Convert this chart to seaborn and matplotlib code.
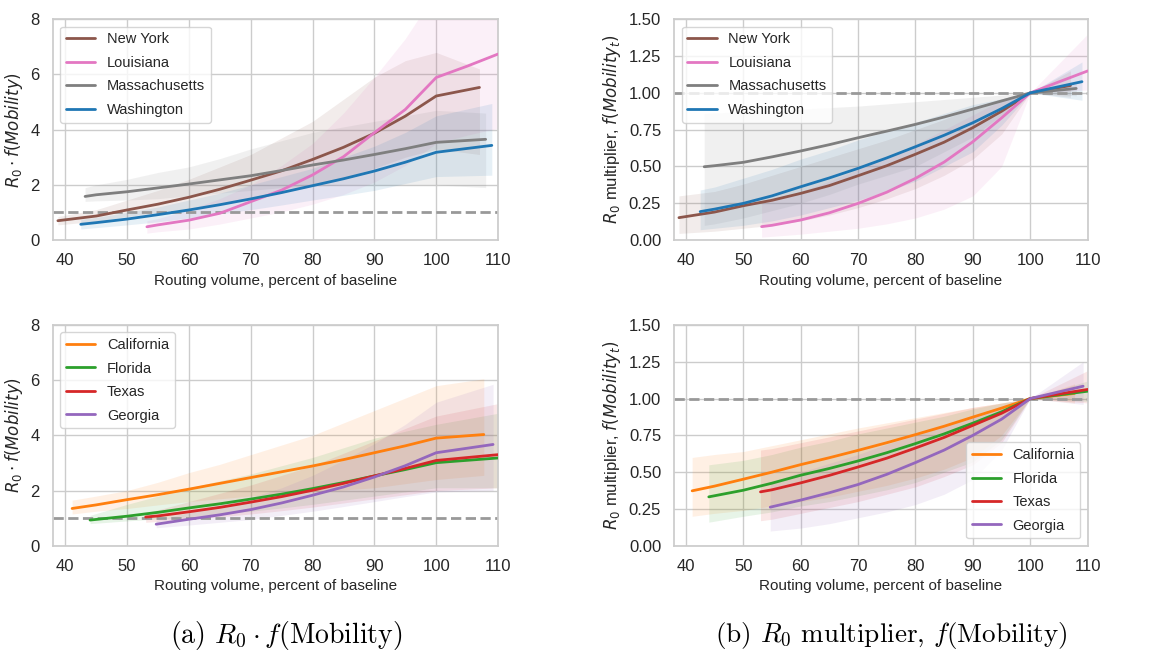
import matplotlib
matplotlib.use("Agg")
import matplotlib.pyplot as plt
import seaborn as sns

# ---------------- data ----------------
# x positions: routing volume, percent of baseline
X_NY = [38.8, 45, 50, 55, 60, 65, 70, 75, 80, 85, 90, 95, 100, 107]
X_LA = [53.2, 55, 60, 65, 70, 75, 80, 85, 90, 95, 100, 105, 110]
X_MA = [43.2, 45, 50, 55, 60, 65, 70, 75, 80, 85, 90, 95, 100, 108]
X_WA = [42.5, 45, 50, 55, 60, 65, 70, 75, 80, 85, 90, 95, 100, 109]
X_CA = [41.1, 45, 50, 55, 60, 65, 70, 75, 80, 85, 90, 95, 100, 107.7]
X_FL = [44.0, 50, 55, 60, 65, 70, 75, 80, 85, 90, 95, 100, 110]
X_TX = [53.0, 55, 60, 65, 70, 75, 80, 85, 90, 95, 100, 110]
X_GA = [54.7, 60, 65, 70, 75, 80, 85, 90, 95, 100, 109.2]

# R0 * f(Mobility): mean, lower, upper
R_NY = [0.70, 0.87, 1.09, 1.30, 1.55, 1.84, 2.17, 2.51, 2.92, 3.36, 3.87, 4.49, 5.22, 5.53]
R_NY_LO = [0.55, 0.68, 0.85, 1.00, 1.15, 1.32, 1.50, 1.72, 1.95, 2.25, 2.60, 3.00, 3.30, 3.10]
R_NY_HI = [0.85, 1.10, 1.45, 1.80, 2.20, 2.65, 3.10, 3.70, 4.30, 5.10, 5.90, 6.50, 6.80, 6.20]
R_LA = [0.48, 0.55, 0.72, 0.97, 1.39, 1.81, 2.36, 3.02, 3.89, 4.73, 5.89, 6.30, 6.74]
R_LA_LO = [0.25, 0.30, 0.40, 0.58, 0.80, 1.02, 1.30, 1.65, 2.10, 2.70, 3.50, 3.80, 4.05]
R_LA_HI = [0.70, 0.78, 1.10, 1.50, 2.00, 2.70, 3.50, 4.60, 5.90, 7.30, 9.00, 9.00, 9.00]
R_MA = [1.58, 1.64, 1.75, 1.89, 2.03, 2.18, 2.33, 2.52, 2.72, 2.90, 3.10, 3.31, 3.54, 3.65]
R_MA_LO = [1.40, 1.42, 1.45, 1.50, 1.60, 1.70, 1.80, 1.90, 1.95, 2.00, 2.00, 2.00, 2.00, 1.90]
R_MA_HI = [1.90, 2.00, 2.20, 2.45, 2.65, 2.95, 3.30, 3.60, 3.90, 4.10, 4.30, 4.50, 4.70, 4.60]
R_WA = [0.57, 0.63, 0.76, 0.92, 1.09, 1.28, 1.49, 1.72, 1.97, 2.22, 2.50, 2.82, 3.18, 3.43]
R_WA_LO = [0.40, 0.45, 0.55, 0.66, 0.80, 0.95, 1.10, 1.27, 1.45, 1.62, 1.80, 2.05, 2.30, 2.35]
R_WA_HI = [0.75, 0.82, 1.00, 1.20, 1.45, 1.70, 2.00, 2.30, 2.60, 3.00, 3.40, 3.90, 4.50, 4.95]
R_CA = [1.35, 1.48, 1.67, 1.85, 2.05, 2.26, 2.47, 2.68, 2.89, 3.12, 3.37, 3.62, 3.90, 4.03]
R_CA_LO = [1.15, 1.25, 1.35, 1.48, 1.60, 1.70, 1.80, 1.88, 1.95, 2.02, 2.10, 2.25, 2.40, 2.55]
R_CA_HI = [1.65, 1.80, 2.00, 2.30, 2.65, 2.95, 3.30, 3.65, 4.00, 4.45, 4.90, 5.35, 5.80, 6.05]
R_FL = [0.93, 1.07, 1.21, 1.37, 1.52, 1.69, 1.87, 2.07, 2.29, 2.53, 2.76, 3.01, 3.18]
R_FL_LO = [0.80, 0.90, 0.97, 1.05, 1.15, 1.25, 1.37, 1.50, 1.65, 1.80, 1.95, 2.10, 2.10]
R_FL_HI = [1.10, 1.50, 1.80, 2.10, 2.35, 2.60, 2.90, 3.20, 3.55, 3.90, 4.15, 4.40, 4.80]
R_TX = [1.04, 1.08, 1.23, 1.39, 1.58, 1.78, 2.01, 2.26, 2.53, 2.80, 3.09, 3.30]
R_TX_LO = [0.85, 0.88, 0.95, 1.05, 1.15, 1.27, 1.40, 1.55, 1.70, 1.85, 2.00, 2.10]
R_TX_HI = [1.20, 1.30, 1.60, 1.90, 2.20, 2.55, 2.90, 3.35, 3.80, 4.25, 4.70, 5.15]
R_GA = [0.78, 0.96, 1.12, 1.31, 1.55, 1.83, 2.13, 2.49, 2.90, 3.37, 3.67]
R_GA_LO = [0.65, 0.75, 0.85, 0.95, 1.10, 1.25, 1.42, 1.60, 1.78, 1.95, 2.00]
R_GA_HI = [0.92, 1.20, 1.45, 1.75, 2.10, 2.55, 3.10, 3.70, 4.40, 5.20, 5.85]

# R0 multiplier f(Mobility_t): mean, lower, upper
M_NY = [0.152, 0.19, 0.233, 0.27, 0.317, 0.37, 0.437, 0.505, 0.583, 0.665, 0.764, 0.875, 1.0, 1.05]
M_NY_LO = [0.045, 0.06, 0.08, 0.10, 0.13, 0.17, 0.22, 0.28, 0.35, 0.44, 0.55, 0.72, 1.0, 0.97]
M_NY_HI = [0.30, 0.33, 0.38, 0.44, 0.50, 0.56, 0.62, 0.68, 0.75, 0.82, 0.90, 0.96, 1.0, 1.15]
M_LA = [0.091, 0.10, 0.136, 0.185, 0.249, 0.325, 0.419, 0.53, 0.668, 0.83, 1.0, 1.075, 1.149]
M_LA_LO = [0.02, 0.025, 0.04, 0.06, 0.08, 0.11, 0.15, 0.21, 0.30, 0.50, 1.0, 1.01, 1.02]
M_LA_HI = [0.25, 0.27, 0.33, 0.40, 0.48, 0.56, 0.65, 0.75, 0.85, 0.95, 1.0, 1.20, 1.40]
M_MA = [0.498, 0.505, 0.528, 0.565, 0.605, 0.648, 0.695, 0.74, 0.786, 0.836, 0.89, 0.945, 1.0, 1.03]
M_MA_LO = [0.10, 0.11, 0.15, 0.20, 0.25, 0.31, 0.38, 0.44, 0.50, 0.60, 0.70, 0.85, 1.0, 0.98]
M_MA_HI = [0.86, 0.865, 0.87, 0.88, 0.89, 0.90, 0.91, 0.925, 0.94, 0.955, 0.97, 0.985, 1.0, 1.06]
M_WA = [0.193, 0.21, 0.249, 0.30, 0.362, 0.422, 0.487, 0.558, 0.634, 0.712, 0.797, 0.893, 1.0, 1.076]
M_WA_LO = [0.07, 0.08, 0.10, 0.13, 0.17, 0.22, 0.27, 0.33, 0.40, 0.50, 0.60, 0.78, 1.0, 0.95]
M_WA_HI = [0.34, 0.36, 0.42, 0.48, 0.55, 0.61, 0.68, 0.74, 0.80, 0.86, 0.92, 0.96, 1.0, 1.21]
M_CA = [0.373, 0.405, 0.452, 0.50, 0.551, 0.598, 0.648, 0.70, 0.755, 0.812, 0.874, 0.935, 1.0, 1.035]
M_CA_LO = [0.20, 0.22, 0.24, 0.27, 0.30, 0.33, 0.37, 0.41, 0.46, 0.52, 0.60, 0.75, 1.0, 0.97]
M_CA_HI = [0.60, 0.62, 0.64, 0.68, 0.72, 0.76, 0.80, 0.835, 0.87, 0.905, 0.94, 0.97, 1.0, 1.10]
M_FL = [0.332, 0.377, 0.425, 0.479, 0.525, 0.576, 0.632, 0.694, 0.76, 0.833, 0.91, 1.0, 1.05]
M_FL_LO = [0.16, 0.20, 0.23, 0.27, 0.30, 0.34, 0.38, 0.43, 0.50, 0.57, 0.72, 1.0, 0.98]
M_FL_HI = [0.55, 0.58, 0.62, 0.67, 0.71, 0.76, 0.80, 0.84, 0.88, 0.93, 0.97, 1.0, 1.12]
M_TX = [0.366, 0.38, 0.427, 0.478, 0.535, 0.595, 0.664, 0.736, 0.818, 0.90, 1.0, 1.062]
M_TX_LO = [0.17, 0.18, 0.22, 0.26, 0.30, 0.35, 0.40, 0.47, 0.55, 0.70, 1.0, 0.97]
M_TX_HI = [0.65, 0.66, 0.70, 0.74, 0.78, 0.82, 0.86, 0.90, 0.94, 0.97, 1.0, 1.19]
M_GA = [0.262, 0.31, 0.36, 0.416, 0.485, 0.565, 0.65, 0.75, 0.86, 1.0, 1.084]
M_GA_LO = [0.10, 0.12, 0.15, 0.19, 0.23, 0.28, 0.35, 0.45, 0.65, 1.0, 0.96]
M_GA_HI = [0.43, 0.50, 0.56, 0.62, 0.69, 0.75, 0.82, 0.88, 0.95, 1.0, 1.25]

TOP_STATES = ["New York", "Louisiana", "Massachusetts", "Washington"]
BOTTOM_STATES = ["California", "Florida", "Texas", "Georgia"]
X_TICKS = [40, 50, 60, 70, 80, 90, 100, 110]
R_TICKS = [0, 2, 4, 6, 8]
M_TICKS = [0.0, 0.25, 0.5, 0.75, 1.0, 1.25, 1.5]

# ---------------- style ----------------
sns.set_theme(style="whitegrid", context="notebook")
plt.rcParams["font.family"] = ["Liberation Sans", "DejaVu Sans"]
plt.rcParams["mathtext.fontset"] = "dejavusans"

pal = sns.color_palette("tab10")
COLORS = {
    "New York": pal[5], "Louisiana": pal[6], "Massachusetts": pal[7], "Washington": pal[0],
    "California": pal[1], "Florida": pal[2], "Texas": pal[3], "Georgia": pal[4],
}

SERIES = {
    "New York": (X_NY, R_NY, R_NY_LO, R_NY_HI, M_NY, M_NY_LO, M_NY_HI),
    "Louisiana": (X_LA, R_LA, R_LA_LO, R_LA_HI, M_LA, M_LA_LO, M_LA_HI),
    "Massachusetts": (X_MA, R_MA, R_MA_LO, R_MA_HI, M_MA, M_MA_LO, M_MA_HI),
    "Washington": (X_WA, R_WA, R_WA_LO, R_WA_HI, M_WA, M_WA_LO, M_WA_HI),
    "California": (X_CA, R_CA, R_CA_LO, R_CA_HI, M_CA, M_CA_LO, M_CA_HI),
    "Florida": (X_FL, R_FL, R_FL_LO, R_FL_HI, M_FL, M_FL_LO, M_FL_HI),
    "Texas": (X_TX, R_TX, R_TX_LO, R_TX_HI, M_TX, M_TX_LO, M_TX_HI),
    "Georgia": (X_GA, R_GA, R_GA_LO, R_GA_HI, M_GA, M_GA_LO, M_GA_HI),
}

fig = plt.figure(figsize=(11.74, 6.56), dpi=100)
W_L, W_R, H = 0.3791, 0.3521, 0.3365
ax_tl = fig.add_axes([0.0451, 0.6341, W_L, H])
ax_tr = fig.add_axes([0.5744, 0.6341, W_R, H])
ax_bl = fig.add_axes([0.0451, 0.1681, W_L, H])
ax_br = fig.add_axes([0.5744, 0.1681, W_R, H])

XLABEL = "Routing volume, percent of baseline"
R_LABEL = r"$R_0 \cdot f(Mobility)$"
M_LABEL = r"$R_0$ multiplier, $f(Mobility_t)$"


def draw(ax, states, kind, legend_loc):
    off = 1 if kind == "R" else 4
    for s in states:
        d = SERIES[s]
        ax.fill_between(d[0], d[off + 1], d[off + 2], color=COLORS[s], alpha=0.11,
                        linewidth=0)
    ax.axhline(1.0, color="#999999", linestyle="--", linewidth=2, zorder=1.5)
    for s in states:
        d = SERIES[s]
        sns.lineplot(x=d[0], y=d[off], ax=ax, color=COLORS[s], label=s,
                     linewidth=2, sort=False, zorder=3)
    ax.set_xlim(38, 110)
    ax.set_xticks(X_TICKS)
    if kind == "R":
        ax.set_ylim(0, 8)
        ax.set_yticks(R_TICKS)
        ax.set_ylabel(R_LABEL, fontsize=12)
    else:
        ax.set_ylim(0, 1.5)
        ax.set_yticks(M_TICKS)
        ax.set_yticklabels([f"{v:.2f}" for v in M_TICKS])
        ax.set_ylabel(M_LABEL, fontsize=12)
    ax.set_xlabel(XLABEL, fontsize=11)
    ax.tick_params(labelsize=12)
    ax.legend(loc=legend_loc, fontsize=10.5, labelspacing=0.65)


draw(ax_tl, TOP_STATES, "R", "upper left")
draw(ax_tr, TOP_STATES, "M", "upper left")
draw(ax_bl, BOTTOM_STATES, "R", "upper left")
draw(ax_br, BOTTOM_STATES, "M", "lower right")

fig.text(0.2436, 0.031, r"(a) $R_0 \cdot f(\mathrm{Mobility})$",
         ha="center", va="center", fontsize=20, family="cmr10",
         math_fontfamily="cm", color="black")
fig.text(0.759, 0.031, r"(b) $R_0$ multiplier, $f(\mathrm{Mobility})$",
         ha="center", va="center", fontsize=19.5, family="cmr10",
         math_fontfamily="cm", color="black")

fig.savefig("out.png", dpi=100)
